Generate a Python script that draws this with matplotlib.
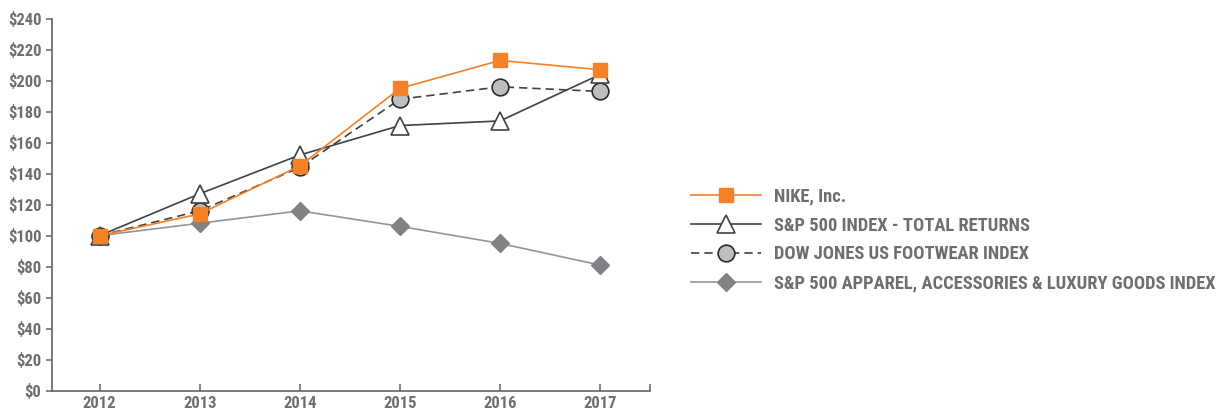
import matplotlib.pyplot as plt
from matplotlib import font_manager

# pick a bold condensed sans that is installed
bold_fams = {f.name for f in font_manager.fontManager.ttflist
             if isinstance(f.weight, int) and f.weight >= 700}
wanted = ['Roboto Condensed', 'PT Sans Narrow', 'Archivo Narrow',
          'Barlow Semi Condensed', 'Fira Sans Condensed', 'IBM Plex Sans Condensed',
          'Liberation Sans Narrow', 'Pragati Narrow']
fam = next((w for w in wanted if w in bold_fams), 'DejaVu Sans')
plt.rcParams['font.family'] = [fam, 'DejaVu Sans']

years = ['2012', '2013', '2014', '2015', '2016', '2017']
nike = [100, 114, 145, 195, 213, 207]
sp500 = [100, 127, 152, 171, 174, 204]
footwear = [100, 116, 144, 188, 196, 193]
apparel = [100, 108, 116, 106, 95, 81]
yticks = list(range(0, 241, 20))

grey = '#6d6e71'
x = list(range(len(years)))

fig = plt.figure(figsize=(12.2, 4.13), dpi=100)
ax = fig.add_axes([0.043, 0.054, 0.49, 0.901])

l4, = ax.plot(x, apparel, color='#939598', lw=1.2, marker='D', ms=9.5,
              mfc='#808285', mec='#808285', zorder=2,
              label='S&P 500 APPAREL, ACCESSORIES & LUXURY GOODS INDEX')
l3, = ax.plot(x, footwear, color='#414042', lw=1.2, ls=(0, (5, 3)), marker='o', ms=12,
              mfc='#bcbec0', mec='#2b2b2b', mew=1.2, zorder=3,
              label='DOW JONES US FOOTWEAR INDEX')
l2, = ax.plot(x, sp500, color='#414042', lw=1.2, marker='^', ms=13,
              mfc='white', mec='#414042', mew=1.2, zorder=4,
              label='S&P 500 INDEX - TOTAL RETURNS')
l1, = ax.plot(x, nike, color='#f58025', lw=1.2, marker='s', ms=10.3,
              mfc='#f58025', mec='#f58025', zorder=5, label='NIKE, Inc.')

ax.set_xlim(-0.47, 5.5)
ax.set_ylim(0, 240)
ax.set_yticks(yticks)
ax.set_yticklabels(['$%d' % v for v in yticks])
ax.set_xticks(x + [5.5])
ax.set_xticklabels(years + [''])

for s in ['top', 'right']:
    ax.spines[s].set_visible(False)
for s in ['left', 'bottom']:
    ax.spines[s].set_color(grey)
    ax.spines[s].set_linewidth(1.3)
ax.tick_params(colors=grey, width=1.2, labelsize=12)
ax.tick_params(axis='x', direction='in', length=5, pad=4)
ax.tick_params(axis='y', direction='out', length=4, pad=4)
for lab in ax.get_xticklabels() + ax.get_yticklabels():
    lab.set_fontweight(800)
    lab.set_color(grey)

leg = fig.legend(handles=[l1, l2, l3, l4], loc='center left',
                 bbox_to_anchor=(0.553, 0.419), frameon=False,
                 handlelength=3.8, handletextpad=0.7, labelspacing=0.59,
                 prop={'weight': 800, 'size': 13.3})
for t in leg.get_texts():
    t.set_color(grey)

fig.savefig('out.png', dpi=100)
